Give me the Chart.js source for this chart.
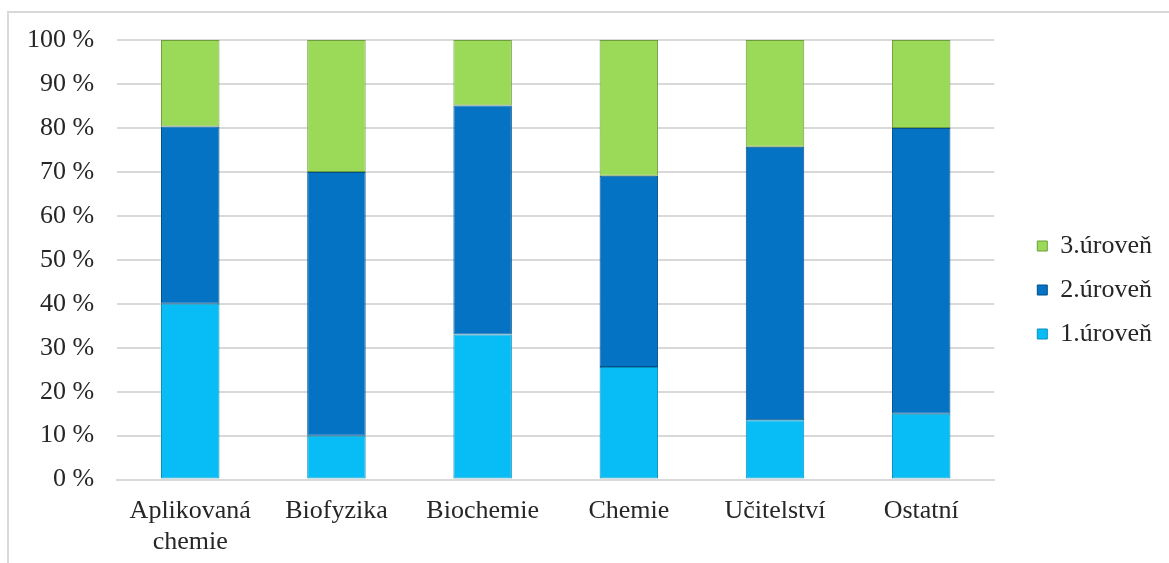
<!DOCTYPE html>
<html>
<head>
<meta charset="utf-8">
<script src="https://cdn.jsdelivr.net/npm/chart.js@4/dist/chart.umd.min.js"></script>
<style>
   html, body { margin: 0; padding: 0; background: #fff; }
   #wrap { position: relative; width: 1169px; height: 563px; overflow: hidden; }
   #frame { position: absolute; left: 7px; top: 11px; width: 1200px; height: 600px;
            border-left: 2px solid #D9D9D9; border-top: 2px solid #D9D9D9; }
   #chart1 { position: absolute; left: 0; top: 0; }
</style>
</head>
<body>
<div id="wrap">
   <div id="frame"></div>
   <canvas id="chart1" width="1169" height="563"></canvas>
</div>
<script>
/*=================================>> DATA  <<=================================*/

const categories = [["Aplikovaná", "chemie"], "Biofyzika", "Biochemie", "Chemie", "Učitelství", "Ostatní"];
const seriesNames = ["1.úroveň", "2.úroveň", "3.úroveň"];
const level1 = [40, 10, 33, 25.6, 13.5, 15];
const level2 = [40.3, 60, 52.1, 43.5, 62.2, 65];
const level3 = [19.7, 30, 14.9, 30.9, 24.3, 20];
const yTicks = [0, 10, 20, 30, 40, 50, 60, 70, 80, 90, 100];

/*=================================>> CHART  <<=================================*/

(function main() {
   const canva = document.querySelector("#chart1");
   drawChart(canva, [level1, level2, level3]);
})();

function drawChart(canva, datasets) {
   const fill = ['#08BDF5', '#0473C4', '#9BDA59'];
   const edge = ['#0890B8', '#034F88', '#6E9E3C'];
   const font = { family: "'Liberation Serif', 'Times New Roman', serif", size: 26 };

   const config = {
      type: 'bar',
      data: {
         labels: categories,
         datasets: datasets.map((data, i) => ({
            label: seriesNames[i],
            data: data,
            backgroundColor: fill[i],
            borderColor: edge[i],
            borderWidth: 1,
            borderSkipped: false,
            barPercentage: 0.4,
            categoryPercentage: 1,
         })),
      },
      options: {
         responsive: false,
         animation: false,
         layout: {
            padding: { left: 4, right: 7, top: 14, bottom: -3 }
         },
         plugins: {
            legend: {
               position: 'right',
               reverse: true,
               labels: {
                  font: font,
                  color: '#262626',
                  boxWidth: 10,
                  boxHeight: 10,
                  padding: 18,
               }
            },
            tooltip: { enabled: false }
         },
         scales: {
            x: {
               stacked: true,
               grid: { display: false },
               border: { color: '#D9D9D9', width: 2 },
               ticks: { font: font, color: '#262626', maxRotation: 0, padding: 8 },
            },
            y: {
               stacked: true,
               min: 0,
               max: 100,
               afterBuildTicks: axis => { axis.ticks = yTicks.map(v => ({ value: v })); },
               grid: { color: '#D9D9D9', lineWidth: 2, drawTicks: false },
               border: { display: false },
               ticks: {
                  font: font,
                  color: '#262626',
                  padding: 23,
                  callback: v => v + ' %',
               },
            },
            // empty strips: above the plot, and between plot and legend
            gapTop: {
               position: 'top',
               grid: { display: false, drawTicks: false },
               border: { display: false },
               ticks: { display: false },
               afterFit: axis => { axis.height = 26; },
            },
            gapRight: {
               position: 'right',
               grid: { display: false, drawTicks: false },
               border: { display: false },
               ticks: { display: false },
               afterFit: axis => { axis.width = 25; },
            }
         }
      },
   };
   new Chart(canva, config);
}
</script>
</body>
</html>
